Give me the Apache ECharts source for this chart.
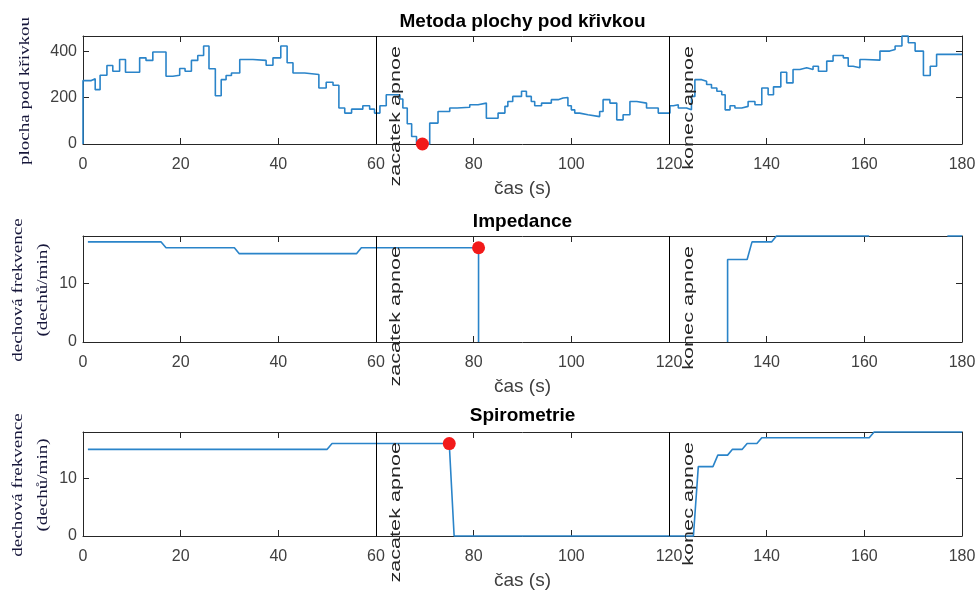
<!DOCTYPE html>
<html><head><meta charset="utf-8">
<script src="https://cdn.jsdelivr.net/npm/echarts@6/dist/echarts.min.js"></script>
<style>html,body{margin:0;padding:0;background:#fff}#c{width:979px;height:591px}</style>
</head><body><div id="c"></div>
<script>
// ---------- data ----------
const titles = ['Metoda plochy pod křivkou', 'Impedance', 'Spirometrie'];
const xName = 'čas (s)';
const xMin = 0, xMax = 180, xStep = 20;
const yMaxes = [465, 18, 18];
const ySteps = [200, 10, 10];
const eventTimes = [60, 120];
const eventLabels = ['zacatek apnoe', 'konec apnoe'];
const yLabels = [['plocha pod křivkou'], ['dechová frekvence', '(dechů/min)'], ['dechová frekvence', '(dechů/min)']];

// area under curve (stairs): time of change, value
const areaT = [0, 0, 1.7, 2.5, 3.5, 4.9, 6.1, 7.5, 8.7, 11.6, 12.9, 14.3, 17.0, 18.4, 19.8, 20.9, 22.2, 23.5, 24.7, 25.8,
  27.1, 28.3, 29.3, 30.4, 32.1, 34.8, 37.5, 38.9, 40.5, 41.8, 43.0, 45.4, 48.3, 49.8, 51.2, 52.4, 53.6, 55.0, 57.3, 58.7,
  59.7, 60.8, 62.1, 64.9, 65.5, 66.4, 67.3, 68.3, 71.0, 72.7, 75.1, 76.6, 79.2, 80.9, 82.6, 85.0, 86.4, 87.0, 88.0, 89.8,
  90.8, 91.8, 92.5, 93.9, 95.9, 97.3, 98.3, 99.3, 100.0, 100.7, 101.7, 103.4, 105.8, 106.5, 107.9, 109.3, 110.6, 112.0, 113.4, 115.4,
  117.8, 120.2, 120.9, 121.9, 123.6, 124.6, 125.3, 126.7, 127.7, 128.7, 129.8, 130.8, 131.5, 132.5, 133.5, 134.9, 136.2, 137.6, 139.0, 140.3,
  141.4, 142.9, 144.1, 145.4, 146.8, 148.2, 149.5, 150.6, 152.3, 153.6, 155.7, 156.7, 157.7, 159.1, 160.1, 163.2, 165.2, 166.3, 167.7, 169.0,
  170.4, 172.1, 173.5, 174.8, 180];
const areaV = [0, 273, 281, 234, 296, 338, 313, 364, 309, 371, 360, 396, 292, 296, 325, 313, 360, 381, 422, 324,
  208, 277, 295, 306, 364, 360, 339, 371, 422, 350, 306, 299, 241, 266, 253, 155, 133, 150, 165, 150,
  133, 165, 212, 194, 155, 87, 32, 0, 90, 140, 155, 158, 169, 176, 111, 133, 162, 183, 205, 227,
  205, 183, 165, 176, 191, 198, 200, 165, 147, 133, 126, 118, 140, 191, 176, 104, 126, 183, 176, 155,
  133, 165, 169, 155, 147, 205, 277, 270, 256, 241, 227, 212, 147, 165, 155, 162, 183, 169, 241, 212,
  246, 309, 263, 321, 328, 321, 335, 313, 357, 381, 371, 335, 328, 364, 361, 400, 407, 422, 465, 436,
  400, 295, 335, 386, 386];

// impedance respiratory rate (null = no estimate)
const impT = [1, 16, 17, 31, 32, 56, 57, 81, 81, 100, 132, 132, 136, 137, 141, 142, 161, 170, 177, 180];
const impV = [17, 17, 16, 16, 15, 15, 16, 16, 0, null, 0, 14, 14, 17, 17, 18, 18, null, 18, 18];

// spirometry respiratory rate
const spiT = [1, 50, 51, 75, 76, 125, 126, 129, 130, 132, 133, 135, 136, 138, 139, 161, 162, 180];
const spiV = [15, 15, 16, 16, 0, 0, 12, 12, 14, 14, 15, 15, 16, 16, 17, 17, 18, 18];

// detected apnoea onset markers
const detectT = [69.5, 81, 75];
const detectV = [0, 16, 16];

// ---------- layout ----------
const gridLeft = 83, gridWidth = 879;
const gridTops = [36, 236, 432];
const gridHeights = [108, 106, 104];
const titleYs = [22, 221.5, 415.5];
const FONT = 'Liberation Sans';
const axisColor = '#262626';
const labelColor = '#404040';
const lineColor = '#2a84c9';

const chart = echarts.init(document.getElementById('c'), null, {renderer: 'canvas'});

const grids = [], xAxes = [], yAxes = [], series = [];
const seriesData = [
  areaT.map((t, i) => [t, areaV[i]]),
  impT.map((t, i) => [t, impV[i]]),
  spiT.map((t, i) => [t, spiV[i]])
];

for (let i = 0; i < 3; i++) {
  grids.push({left: gridLeft, width: gridWidth, top: gridTops[i], height: gridHeights[i], containLabel: false});
  const yMax = yMaxes[i], yStep = ySteps[i];
  const axLine = {show: true, onZero: false, lineStyle: {color: axisColor, width: 1}};
  const tick = {show: true, inside: true, length: 6, lineStyle: {color: axisColor, width: 1}};
  xAxes.push({
    gridIndex: i, type: 'value', position: 'bottom', min: xMin, max: xMax, interval: xStep,
    axisLine: axLine, axisTick: tick, splitLine: {show: false},
    axisLabel: {color: labelColor, fontSize: 16, fontFamily: FONT, margin: 13},
    name: xName, nameLocation: 'middle', nameGap: 35,
    nameTextStyle: {color: labelColor, fontSize: 19, fontFamily: FONT}
  });
  xAxes.push({
    gridIndex: i, type: 'value', position: 'top', min: xMin, max: xMax, interval: xStep,
    axisLine: axLine, axisTick: tick, splitLine: {show: false}, axisLabel: {show: false}
  });
  const fmt = v => (v % yStep === 0 ? String(v) : '');
  yAxes.push({
    gridIndex: i, type: 'value', position: 'left', min: 0, max: yMax, interval: yStep,
    axisLine: axLine, axisTick: tick, splitLine: {show: false},
    axisLabel: {color: labelColor, fontSize: 16, fontFamily: FONT, margin: 6, formatter: fmt}
  });
  yAxes.push({
    gridIndex: i, type: 'value', position: 'right', min: 0, max: yMax, interval: yStep,
    axisLine: axLine, axisTick: tick, splitLine: {show: false}, axisLabel: {show: false}
  });
  series.push({
    type: 'line', xAxisIndex: 2 * i, yAxisIndex: 2 * i,
    data: seriesData[i], step: i === 0 ? 'end' : false,
    showSymbol: false, symbol: 'none', connectNulls: false, clip: false,
    lineStyle: {color: lineColor, width: 1.6}, silent: true,
    markLine: {
      silent: true, symbol: 'none', animation: false,
      label: {show: false},
      lineStyle: {color: '#000', width: 1, type: 'solid'},
      data: eventTimes.map(t => ({xAxis: t}))
    }
  });
  series.push({
    type: 'scatter', xAxisIndex: 2 * i, yAxisIndex: 2 * i, clip: false, z: 5,
    data: [[detectT[i], detectV[i]]], symbol: 'circle', symbolSize: 13,
    itemStyle: {color: '#f21a1a', opacity: 1}, silent: true
  });
}

chart.setOption({
  animation: false,
  backgroundColor: '#fff',
  textStyle: {fontFamily: FONT},
  grid: grids, xAxis: xAxes, yAxis: yAxes, series: series
});

// ---------- texts ----------
const graphics = [];
for (let i = 0; i < 3; i++) {
  const cx = chart.convertToPixel({xAxisIndex: 2 * i}, (xMin + xMax) / 2);
  graphics.push({
    type: 'text', x: cx, y: titleYs[i], silent: true,
    style: {text: titles[i], fontSize: 19, fontWeight: 'bold', fontFamily: FONT, fill: '#000', align: 'center', verticalAlign: 'middle'}
  });
  eventTimes.forEach((t, k) => {
    const px = chart.convertToPixel({xAxisIndex: 2 * i}, t);
    graphics.push({
      type: 'text', x: px + 20, y: gridTops[i] + 10, rotation: Math.PI / 2, scaleX: 1.35, scaleY: 0.88, silent: true, z: 10,
      style: {text: eventLabels[k], fontSize: 16, fontFamily: FONT, fill: '#262626', align: 'right', verticalAlign: 'middle'}
    });
  });
  const lines = yLabels[i];
  const cy = gridTops[i] + gridHeights[i] / 2 + 1;
  const xs = lines.length === 1 ? [25] : [18.5, 43.5];
  lines.forEach((s, k) => {
    graphics.push({
      type: 'text', x: xs[k], y: cy, rotation: Math.PI / 2, scaleX: 1.27, scaleY: 1, silent: true,
      style: {text: s, fontSize: 15, fontFamily: 'Liberation Serif', fill: '#16163a', align: 'center', verticalAlign: 'middle'}
    });
  });
}
chart.setOption({graphic: graphics});
</script>
</body></html>
